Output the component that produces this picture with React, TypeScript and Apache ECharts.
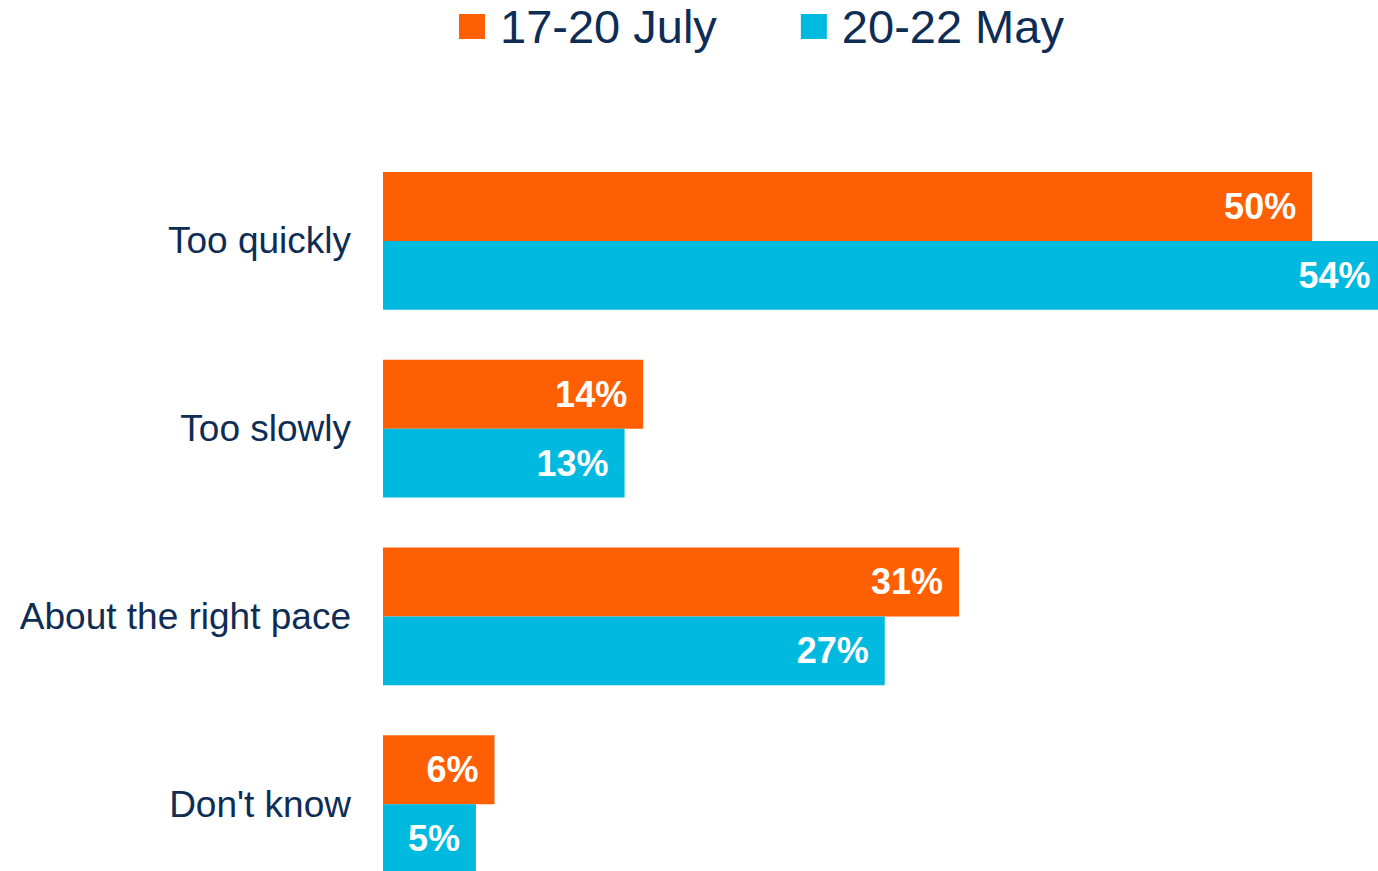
import React, { useEffect, useRef } from "react";
import * as echarts from "echarts";

const categories = ["Too quickly", "Too slowly", "About the right pace", "Don't know"];
const seriesNames = ["17-20 July", "20-22 May"];
const julyValues = [50, 14, 31, 6];
const mayValues = [54, 13, 27, 5];
const colors = ["#FF5F03", "#00B9DF"];
const textColor = "#0E2D55";
const font = "'Liberation Sans', Arial, sans-serif";

export default function App() {
  const ref = useRef<HTMLDivElement>(null);
  useEffect(() => {
    if (!ref.current) return;
    const chart = echarts.init(ref.current, undefined, { renderer: "svg" });
    const label = {
      show: true,
      position: "insideRight",
      distance: 16,
      formatter: "{c}%",
      color: "#ffffff",
      fontSize: 36,
      fontWeight: "bold",
      fontFamily: font,
    };
    chart.setOption({
      animation: false,
      color: colors,
      legend: {
        data: seriesNames,
        left: 454,
        top: -2,
        icon: "rect",
        itemWidth: 26,
        itemHeight: 25,
        itemGap: 84,
        textStyle: {
          fontSize: 47,
          color: textColor,
          fontFamily: font,
          padding: [0, 0, 0, 10],
        },
      },
      grid: { left: 383, top: 147, height: 751, width: 1115, containLabel: false },
      xAxis: { type: "value", min: 0, max: 60, show: false },
      yAxis: {
        type: "category",
        data: categories,
        inverse: true,
        axisLine: { show: false },
        axisTick: { show: false },
        splitLine: { show: false },
        axisLabel: { fontSize: 37, color: textColor, fontFamily: font, margin: 32 },
      },
      series: [
        {
          name: seriesNames[0],
          type: "bar",
          data: julyValues,
          barGap: "0%",
          barCategoryGap: "26.6%",
          label,
        },
        {
          name: seriesNames[1],
          type: "bar",
          data: mayValues,
          barGap: "0%",
          barCategoryGap: "26.6%",
          label,
        },
      ],
    });
    return () => chart.dispose();
  }, []);
  return (
    <div
      style={{
        position: "fixed",
        left: 0,
        top: 0,
        width: 1378,
        height: 871,
        overflow: "hidden",
        background: "#fff",
      }}
    >
      <div ref={ref} style={{ width: 1520, height: 920 }} />
    </div>
  );
}
